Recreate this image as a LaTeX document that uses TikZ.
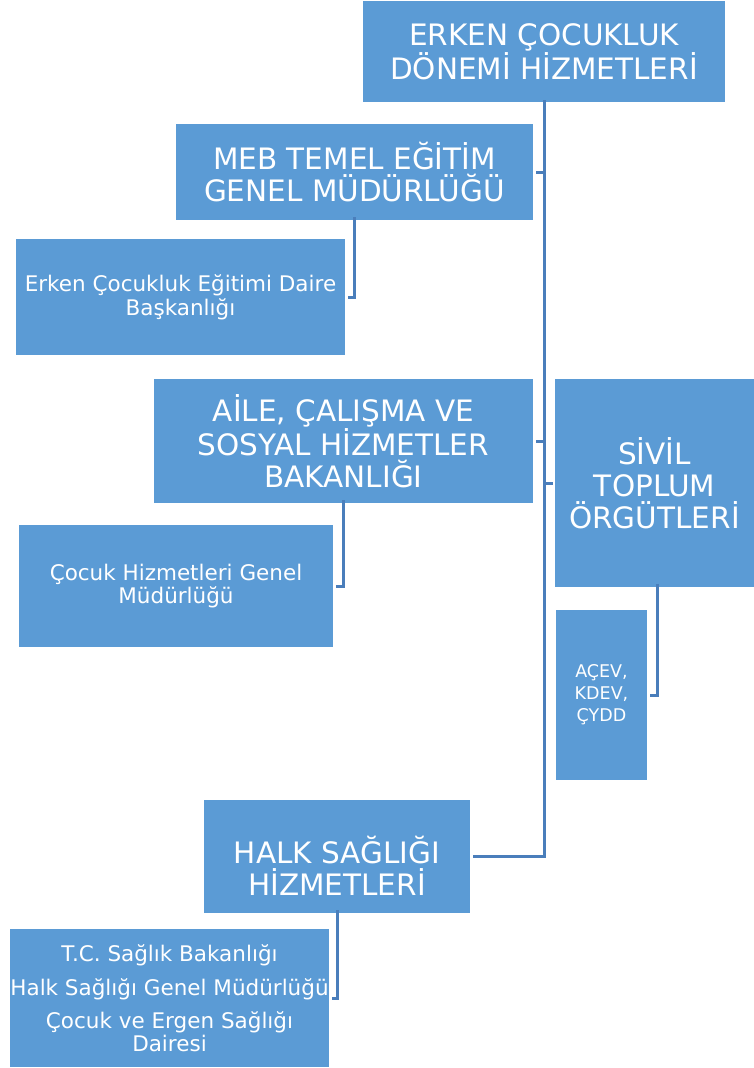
\documentclass[tikz,border=0pt]{standalone}
\usepackage{fontspec}
\setmainfont{DejaVu Sans}
\usetikzlibrary{positioning,calc}
\definecolor{boxblue}{HTML}{5B9BD5}
\definecolor{linkblue}{HTML}{4A7EBB}
\begin{document}
\begin{tikzpicture}[x=1pt,y=-1pt,
		box/.style={fill=boxblue,text=white,inner sep=0,align=center},
		big/.style={font=\fontsize{29.5}{32}\selectfont},
		small/.style={font=\fontsize{21.5}{23}\selectfont},
		link/.style={draw=linkblue,line width=3pt}]
		\useasboundingbox (0,0) rectangle (754,1068);
		% main units
		\node[box,big,minimum width=362,minimum height=101] (root) at (544,51.5) {ERKEN ÇOCUKLUK\\DÖNEMİ HİZMETLERİ};
		\node[box,big,minimum width=357,minimum height=96] (meb) at (354.5,172) {MEB TEMEL EĞİTİM\\GENEL MÜDÜRLÜĞÜ};
		\node[box,big,minimum width=379,minimum height=124] (aile) at (343.5,441) {AİLE, ÇALIŞMA VE\\SOSYAL HİZMETLER\\BAKANLIĞI};
		\node[box,big,minimum width=199,minimum height=208] (stk) at (654.5,483) {SİVİL\\TOPLUM\\ÖRGÜTLERİ};
		\node[box,big,minimum width=266,minimum height=113] (halk) at (337,856.5) {\raisebox{-9pt}[\height][\depth]{\parbox{260pt}{\centering HALK SAĞLIĞI\\HİZMETLERİ}}};
		% sub units
		\node[box,small,minimum width=329,minimum height=116,font=\fontsize{21.5}{24}\selectfont] (ece) at (180.5,297) {Erken Çocukluk Eğitimi Daire\\Başkanlığı};
		\node[box,small,minimum width=314,minimum height=122] (chgm) at (176,586) {Çocuk Hizmetleri Genel\\Müdürlüğü};
		\node[box,small,minimum width=91,minimum height=170,font=\fontsize{17.5}{22}\selectfont] (acev) at (601.5,695) {AÇEV,\\KDEV,\\ÇYDD};
		\node[box,small,minimum width=319,minimum height=138] (tc) at (169.5,998) {T.C. Sağlık Bakanlığı\\[11pt]Halk Sağlığı Genel Müdürlüğü\\[10pt]Çocuk ve Ergen Sağlığı\\Dairesi};
		% trunk
		\draw[link] ([yshift=2]root.south) |- ([xshift=3]halk.east);
		\draw[link] ([xshift=3]meb.east) -- (meb.east -| root.south);
		\draw[link] ([xshift=3]aile.east) -- (aile.east -| root.south);
		\draw[link] (stk.west -| root.south) -- ([xshift=-2]stk.west);
		% brackets
		\draw[link] ([yshift=3]meb.south) |- ([xshift=3]ece.east);
		\draw[link] ([yshift=3]aile.south) |- ([xshift=3]chgm.east);
		\draw[link] ([xshift=2.5,yshift=3]stk.south) |- ([xshift=3]acev.east);
		\draw[link] ([yshift=3]halk.south) |- ([xshift=3]tc.east);
	\end{tikzpicture}
\end{document}
